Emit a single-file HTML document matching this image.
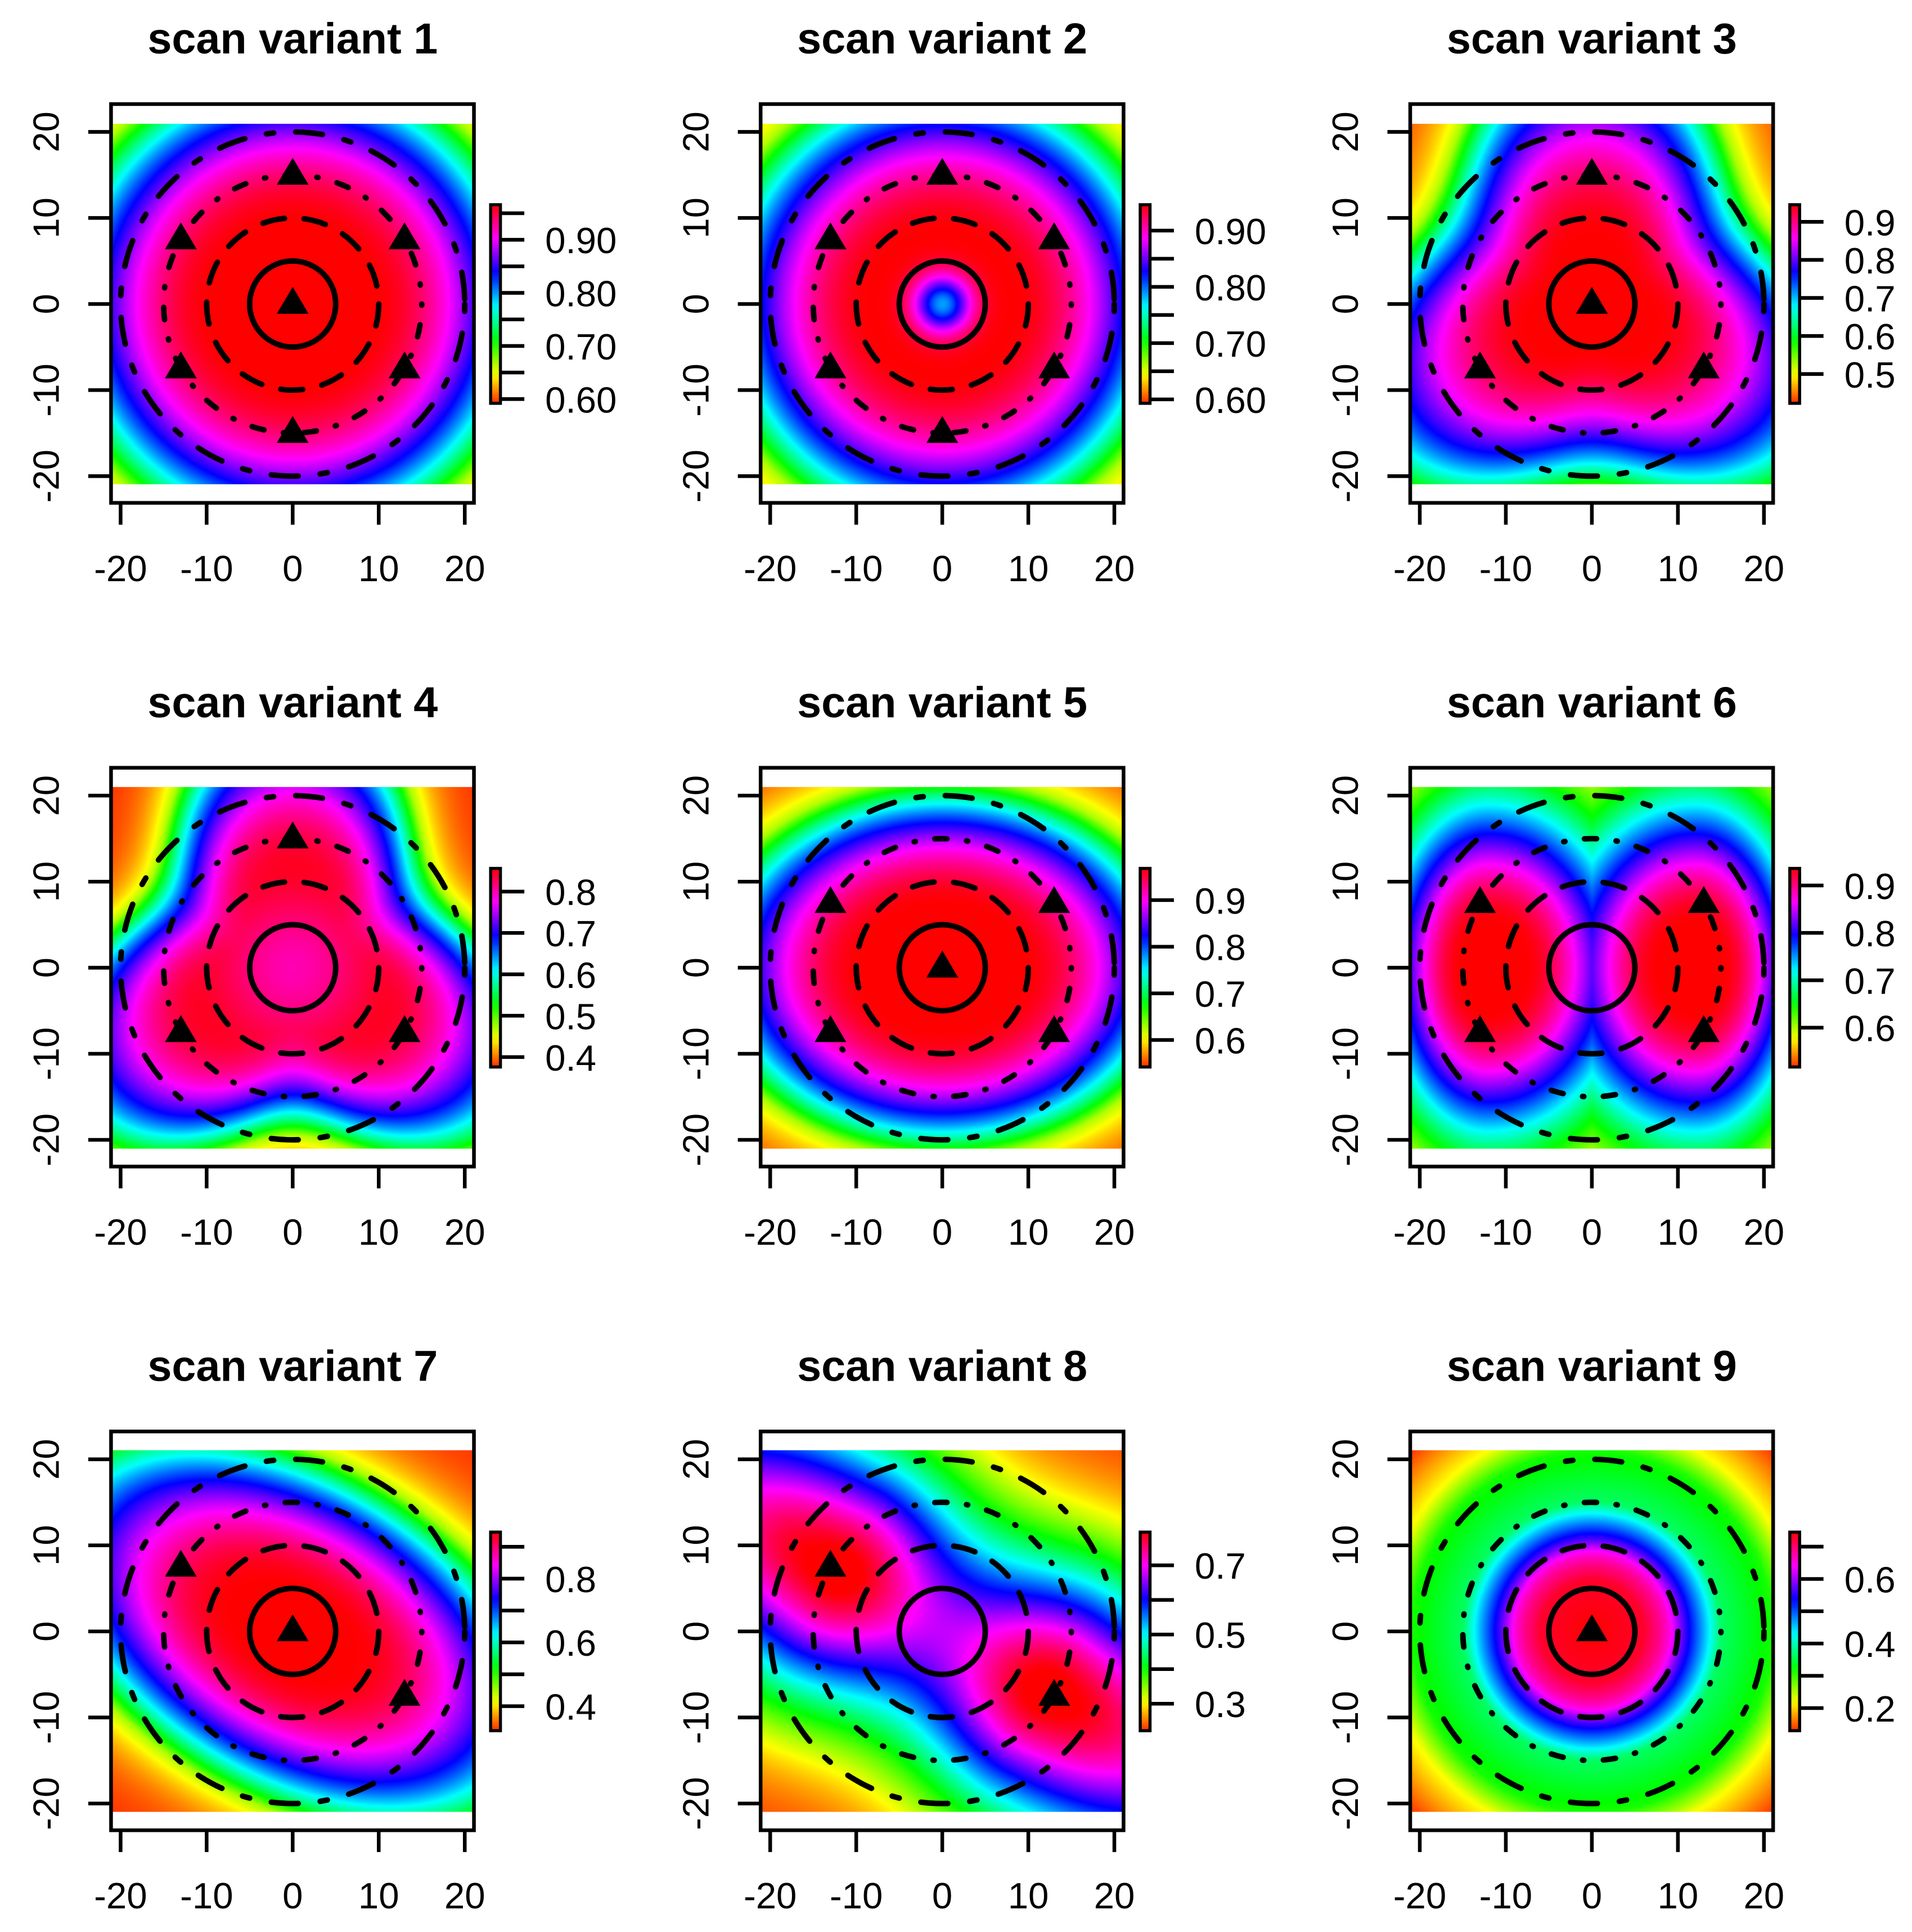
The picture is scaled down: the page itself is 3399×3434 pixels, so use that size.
<!DOCTYPE html>
<html><head><meta charset="utf-8"><title>scan variants</title>
<style>
html,body{margin:0;padding:0;background:#fff;}
body{width:3399px;height:3434px;overflow:hidden;position:relative;}
#root{position:absolute;left:0;top:0;width:1560px;height:1576px;transform-origin:0 0;transform:scale(2.178846,2.178934);}
#root canvas{position:absolute;}
#overlay{position:absolute;left:0;top:0;}
text{font-family:"Liberation Sans",sans-serif;fill:#000;}
</style></head>
<body>
<div id="root">
<svg id="overlay" width="1560" height="1576" viewBox="0 0 1560 1576"></svg>
</div>
<script>
// ---- data ----
const panelTitles = ['scan variant 1','scan variant 2','scan variant 3','scan variant 4','scan variant 5','scan variant 6','scan variant 7','scan variant 8','scan variant 9'];
const axisTicks = [-20,-10,0,10,20];
const cbMin = [0.592,0.593,0.423,0.376,0.542,0.517,0.323,0.222,0.130];
const cbMax = [0.966,0.946,0.945,0.856,0.968,0.936,0.946,0.796,0.745];
const cbTickStep = [0.05,0.05,0.1,0.1,0.1,0.1,0.1,0.1,0.1];
const cbLabels = [[0.60,0.70,0.80,0.90],[0.60,0.70,0.80,0.90],[0.5,0.6,0.7,0.8,0.9],[0.4,0.5,0.6,0.7,0.8],[0.6,0.7,0.8,0.9],[0.6,0.7,0.8,0.9],[0.4,0.6,0.8],[0.3,0.5,0.7],[0.2,0.4,0.6]];
const cbDecimals = [2,2,1,1,1,1,1,1,1];
const triangleSets = [
 [[0,15],[-13,7.5],[13,7.5],[-13,-7.5],[13,-7.5],[0,-15],[0,0]],
 [[0,15],[-13,7.5],[13,7.5],[-13,-7.5],[13,-7.5],[0,-15]],
 [[0,15],[-13,-7.5],[13,-7.5],[0,0]],
 [[0,15],[-13,-7.5],[13,-7.5]],
 [[0,0],[-13,7.5],[13,7.5],[-13,-7.5],[13,-7.5]],
 [[-13,7.5],[13,7.5],[-13,-7.5],[13,-7.5]],
 [[0,0],[-13,7.5],[13,-7.5]],
 [[-13,7.5],[13,-7.5]],
 [[0,0]]
];
const ringRadii = [5,10,15,20];
// field shape parameters (normalized colour level t)
const radialInner = [9,8,6,8,9,3,7];
const radialSpread = [22,22,24,20,22,10.4,30];
const triAmp = [0.2,0.25];
const centerDip = [0.45,0.12];
const lobeCenters = [[-12,0],[12,0]];
const blobCenters = [[-13,7.5],[13,-7.5]];
const p9ProfileR = [0,6,8,9,11,13.5,15,21,24,30];
const p9ProfileT = [1,0.97,0.9,0.85,0.68,0.5,0.38,0.3,0.15,0.0];

// ---- geometry ----
const colDX = 530, rowDY = 541.4, K = 7.02;
function panelCenter(i){ return [238.8 + (i%3)*colDX, 248 + Math.floor(i/3)*rowDY]; }
const sq = v => v*v;
function interp(xs, ys, v){
  if(v<=xs[0]) return ys[0];
  for(let i=1;i<xs.length;i++) if(v<=xs[i]) return ys[i-1]+(ys[i]-ys[i-1])*(v-xs[i-1])/(xs[i]-xs[i-1]);
  return ys[ys.length-1];
}
function soft(q){ return q<=0.8 ? 1-q : 0.2*Math.exp(-(q-0.8)/0.4); }
function radial(r, m){ return soft(sq(Math.max(0, r-radialInner[m])/radialSpread[m])); }
const fields = [
 (x,y)=>radial(Math.hypot(x,y),0),
 (x,y)=>{const r=Math.hypot(x,y); return radial(r,1)-centerDip[0]*Math.exp(-r*r/(2*2.3*2.3));},
 (x,y)=>{const r=Math.hypot(x,y),th=Math.atan2(y,x); return radial(r/(1+triAmp[0]*Math.cos(3*(th-Math.PI/2))),2);},
 (x,y)=>{const r=Math.hypot(x,y),th=Math.atan2(y,x); return radial(r/(1+triAmp[1]*Math.cos(3*(th-Math.PI/2))),3)-centerDip[1]*Math.exp(-r*r/72);},
 (x,y)=>radial(Math.hypot(x,1.3*y),4),
 (x,y)=>{let d=1e9; for(const c of lobeCenters){let dx=x-c[0]; if(dx*c[0]<0) dx*=0.75; d=Math.min(d,Math.hypot(dx,(y-c[1])/1.6));}
   return Math.exp(-sq(Math.max(0,d-radialInner[5])/radialSpread[5]));},
 (x,y)=>{const u=x*0.866-y*0.5, v=x*0.5+y*0.866; return radial(Math.hypot(u,1.7*v),6);},
 (x,y)=>{let t=0; const u=x*0.866-y*0.5, v=x*0.5+y*0.866;
   for(const c of blobCenters){const cu=c[0]*0.866-c[1]*0.5, cv=c[0]*0.5+c[1]*0.866;
     let du=u-cu; if(du*cu>0) du*=0.5; const dv=v-cv; t+=Math.exp(-(du*du+dv*dv)/(2*121));}
   return t;},
 (x,y)=>interp(p9ProfileR,p9ProfileT,Math.hypot(x,y))
];
function hueOf(t){ t=Math.max(0,Math.min(1,t)); return 10+350*t; }
function rgbOf(t){
  const h=hueOf(t)%360/60, c=255, xx=Math.round(255*(1-Math.abs(h%2-1)));
  const s=Math.floor(h);
  return [[c,xx,0],[xx,c,0],[0,c,xx],[0,xx,c],[xx,0,c],[c,0,xx]][s];
}

// ---- drawing ----
const root=document.getElementById('root');
const svg=document.getElementById('overlay');
const NS='http://www.w3.org/2000/svg';
function el(tag, attrs, parent){ const e=document.createElementNS(NS,tag); for(const k in attrs) e.setAttribute(k,attrs[k]); (parent||svg).appendChild(e); return e; }

const defs=el('defs',{});
const grad=el('linearGradient',{id:'cbgrad',x1:0,y1:1,x2:0,y2:0},defs);
for(let s=0;s<=24;s++){ const t=s/24; el('stop',{offset:t,'stop-color':'hsl('+hueOf(t)+',100%,50%)'},grad); }

const xlo=-21.09, xhi=21.09, ylo=-21, yhi=21;
for(let i=0;i<9;i++){
  const [cx,cy]=panelCenter(i);
  const ox=cx-238.8, oy=cy-248;
  const g=el('g',{});
  
  
  const N=220, cv=document.createElement('canvas');
  cv.width=N; cv.height=N;
  cv.style.left=(cx+xlo*K)+'px'; cv.style.top=(cy-yhi*K)+'px';
  cv.style.width=((xhi-xlo)*K)+'px'; cv.style.height=((yhi-ylo)*K)+'px';
  
  
  const ctx=cv.getContext('2d'), img=ctx.createImageData(N,N);
  for(let j=0;j<N;j++) for(let k=0;k<N;k++){
    const x=xlo+(k+0.5)/N*(xhi-xlo), y=yhi-(j+0.5)/N*(yhi-ylo);
    const c=rgbOf(fields[i](x,y)), p=(j*N+k)*4;
    img.data[p]=c[0]; img.data[p+1]=c[1]; img.data[p+2]=c[2]; img.data[p+3]=255;
  }
  ctx.putImageData(img,0,0);
  root.insertBefore(cv, svg);

  const tt=el('text',{x:cx,y:oy+43.7,'text-anchor':'middle','font-size':35.5,'font-weight':'bold'},g);
  tt.textContent=panelTitles[i];
  
  
  const dashes=['none','18 16','1 16 10 16','6 18 22 18'];
  ringRadii.forEach((r,ri)=>{
    const c=el('circle',{cx:cx,cy:cy,r:r*K,fill:'none',stroke:'#000','stroke-width':4.5,'stroke-linecap':'round','stroke-dasharray':dashes[ri]},g);
    
    
  });
  triangleSets[i].forEach(p=>{
    const px=cx+p[0]*K, py=cy-p[1]*K;
    const tri=el('polygon',{points:(px-13)+','+(py+8)+' '+(px+13)+','+(py+8)+' '+px+','+(py-14),fill:'#000'},g);
    
    
  });
  const box=el('rect',{x:ox+90.6,y:oy+84.9,width:296.1,height:325.3,fill:'none',stroke:'#000','stroke-width':3},g);
  
  
  axisTicks.forEach(v=>{
    const px=cx+v*K, py=cy-v*K;
    el('line',{x1:px,y1:oy+410,x2:px,y2:oy+428,stroke:'#000','stroke-width':3},g);
    const xl=el('text',{x:px,y:oy+474,'text-anchor':'middle','font-size':30},g);
    xl.textContent=String(v);
    
    
    el('line',{x1:ox+72,y1:py,x2:ox+90.6,y2:py,stroke:'#000','stroke-width':3},g);
    const yl=el('text',{x:0,y:0,'text-anchor':'middle','font-size':30,transform:'translate('+(ox+48)+','+py+') rotate(-90)'},g);
    yl.textContent=String(v);
    
    
  });
  const bTop=cy-81, bBot=cy+81, bx=cx+161.5;
  const mn=cbMin[i], mx=cbMax[i];
  const yv=v=>bBot-(v-mn)/(mx-mn)*(bBot-bTop);
  const cb=el('rect',{x:bx,y:bTop,width:8,height:bBot-bTop,fill:'url(#cbgrad)',stroke:'#000','stroke-width':2.5},g);
  
  
  const st=cbTickStep[i];
  for(let v=Math.ceil(mn/st-1e-6)*st; v<=mx+1e-9; v+=st){
    const py=yv(v);
    el('line',{x1:bx+8,y1:py,x2:cx+189,y2:py,stroke:'#000','stroke-width':3},g);
  }
  cbLabels[i].forEach(v=>{
    const lt=el('text',{x:cx+206,y:yv(v)+11,'font-size':30},g);
    lt.textContent=v.toFixed(cbDecimals[i]);
    
    
  });
}
</script>
</body></html>
